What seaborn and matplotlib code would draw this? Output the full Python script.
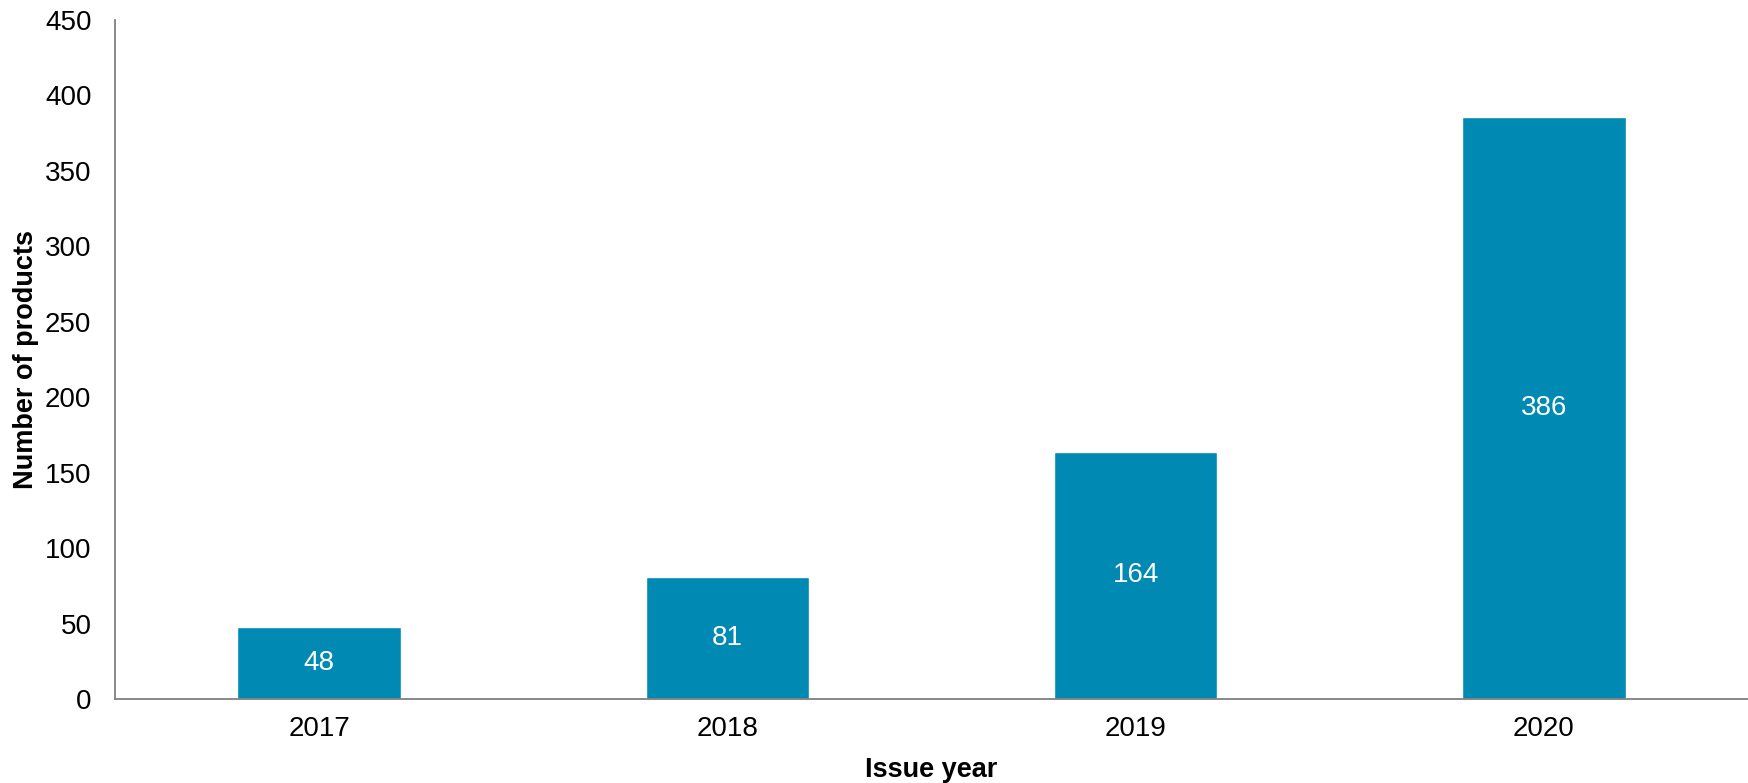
import matplotlib
matplotlib.use("Agg")
import matplotlib.pyplot as plt
import seaborn as sns
import pandas as pd

years = ["2017", "2018", "2019", "2020"]
products = [48, 81, 164, 386]
y_ticks = [0, 50, 100, 150, 200, 250, 300, 350, 400, 450]

sns.set_theme(style="white")
plt.rcParams["font.family"] = ["Liberation Sans", "DejaVu Sans"]

df = pd.DataFrame({"year": years, "count": products})

fig = plt.figure(figsize=(17.48, 7.83), dpi=100)
ax = fig.add_axes([0.0658, 0.1073, 0.9342, 0.8672])

sns.barplot(data=df, x="year", y="count", color="#0089B3", width=0.4,
            saturation=1, ax=ax)

for container in ax.containers:
    ax.bar_label(container, labels=[str(v) for v in products],
                 label_type="center", color="white", fontsize=20)

ax.set_xlim(-0.5, 3.5)
ax.set_ylim(0, 450)
ax.set_yticks(y_ticks)
ax.set_yticklabels([str(t) for t in y_ticks])

ax.tick_params(axis="y", length=0, pad=17, labelsize=20, labelcolor="black")
ax.tick_params(axis="x", length=0, pad=12, labelsize=20, labelcolor="black")

ax.set_xlabel("Issue year", fontsize=19.5, fontweight="bold", labelpad=11,
              color="black")
ax.set_ylabel("Number of products", fontsize=19.5, fontweight="bold",
              labelpad=4, color="black")

for side in ["top", "right"]:
    ax.spines[side].set_visible(False)
for side in ["left", "bottom"]:
    ax.spines[side].set_color("#808080")
    ax.spines[side].set_linewidth(1.3)

fig.savefig("out.png", dpi=100)
